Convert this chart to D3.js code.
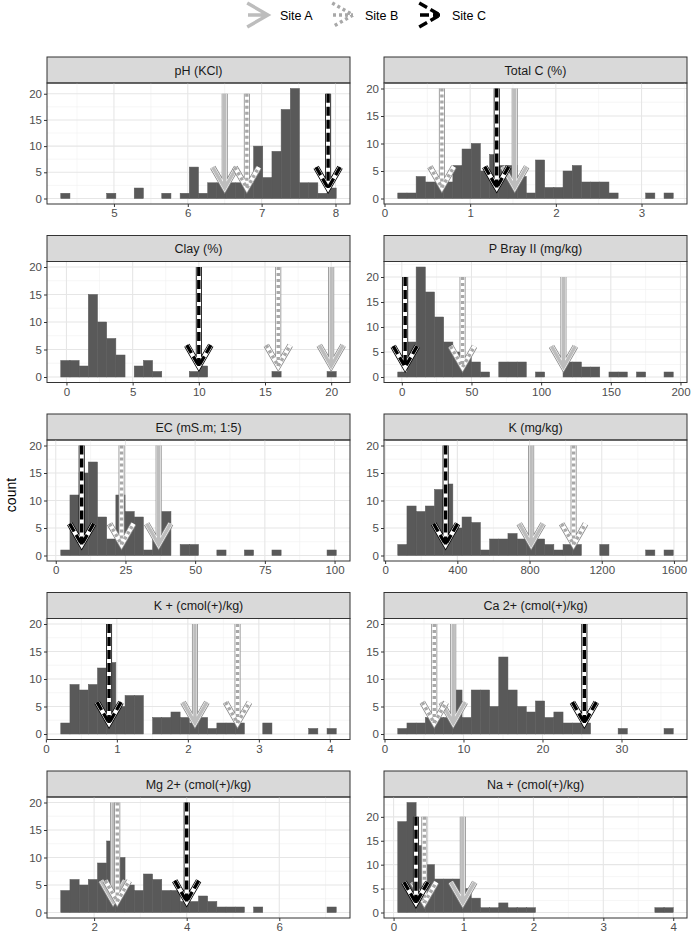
<!DOCTYPE html>
<html>
<head>
<meta charset="utf-8">
<script src="https://cdn.jsdelivr.net/npm/d3@7"></script>
<style>
body { margin: 0; background: #fff; }
text { font-family: "Liberation Sans", Arial, sans-serif; }
</style>
</head>
<body>
<script>
// facet titles
var panels = ["pH (KCl)", "Total C (%)", "Clay (%)", "P Bray II (mg/kg)", "EC (mS.m; 1:5)",
              "K (mg/kg)", "K + (cmol(+)/kg)", "Ca 2+ (cmol(+)/kg)", "Mg 2+ (cmol(+)/kg)", "Na + (cmol(+)/kg)"];

// histogram range (first bin left edge, last bin right edge), 30 bins each
var binLo = [4.28, 0.155, -0.43, -2.9, 1.8, 70, 0.21, 1.68, 1.28, 0.06];
var binHi = [8.01, 3.37, 20.38, 194.8, 100.6, 1596, 4.09, 36.55, 7.23, 4.0];

var phCounts   = [1,0,0,0,0,1,0,0,2,0,0,1,0,1,6,1,3,3,3,3,3,10,4,9,17,21,3,3,1,2];
var totCCounts = [1,1,4,3,3,3,6,9,10,5,8,6,6,4,1,7,2,2,5,6,3,3,3,1,0,0,0,1,0,1];
var clayCounts = [3,3,2,15,10,7,4,0,2,3,1,0,0,0,1,2,0,0,0,0,0,0,0,1,0,0,0,0,0,1];
var pCounts    = [1,7,22,17,12,7,5,4,3,1,0,3,3,3,0,1,0,0,3,3,2,2,0,1,1,0,1,0,0,1];
var ecCounts   = [1,11,15,17,7,3,11,8,7,1,3,8,0,2,2,0,0,1,0,0,1,0,0,1,0,0,0,0,0,1];
var kCounts    = [2,9,8,9,12,13,5,7,6,1,3,3,4,3,3,3,2,1,2,2,0,0,2,0,0,0,0,1,0,1];
var kpCounts   = [2,9,8,9,12,13,5,7,7,0,3,3,4,3,2,3,1,2,2,2,0,0,2,0,0,0,0,1,0,1];
var caCounts   = [1,2,2,3,3,3,8,3,8,8,5,14,8,5,4,6,3,4,2,2,2,0,0,0,1,0,0,0,0,1];
var mgCounts   = [4,6,5,6,9,13,10,5,4,7,6,4,4,2,2,3,2,1,1,1,0,1,0,0,0,0,0,0,0,1];
var naCounts   = [19,23,14,10,7,7,7,5,3,1,1,2,1,1,1,0,0,0,0,0,0,0,0,0,0,0,0,0,1,1];
var allCounts = [phCounts, totCCounts, clayCounts, pCounts, ecCounts, kCounts, kpCounts, caCounts, mgCounts, naCounts];

// site values (arrow positions)
var siteA = [6.5, 1.52, 20, 116, 36.9, 809, 2.1, 8.7, 2.41, 0.99];
var siteB = [6.8, 0.67, 16, 43.6, 23.6, 1044, 2.7, 6.3, 2.5, 0.44];
var siteC = [7.9, 1.31, 10, 2.4, 9.3, 335, 0.89, 25.3, 4.0, 0.32];
var sites = ["Site A", "Site B", "Site C"];
var arrowTop = 20, arrowTip = 2;

// tick labels
var xTicks = [[5,6,7,8], [0,1,2,3], [0,5,10,15,20], [0,50,100,150,200], [0,25,50,75,100],
              [0,400,800,1200,1600], [0,1,2,3,4], [0,10,20,30], [2,4,6], [0,1,2,3,4]];
var yTicks = [0, 5, 10, 15, 20];

var W = 694, H = 939;
var colX = [47, 384], panelW = 303, stripH = 26, panelH = 121, rowTop = 57, rowStep = 178.5;

var siteStyle = {
  "Site A": {outline: "#8a8a8a", color: "#bdbdbd", dash: null},
  "Site B": {outline: "#8a8a8a", color: "#a8a8a8", dash: "3,3"},
  "Site C": {outline: "#000000", color: "#000000", dash: "9,4"}
};

var svg = d3.select("body").append("svg")
    .attr("width", W).attr("height", H);

function chevron(x, yTip, L, ang, dir) {
  // dir "down" for panels, "right" for legend
  var s = Math.sin(ang), c = Math.cos(ang);
  if (dir === "down")
    return "M" + (x - L*s) + "," + (yTip - L*c) + "L" + x + "," + yTip + "L" + (x + L*s) + "," + (yTip - L*c);
  return "M" + (x - L*c) + "," + (yTip - L*s) + "L" + x + "," + yTip + "L" + (x - L*c) + "," + (yTip + L*s);
}

panels.forEach(function(name, i) {
  var col = i % 2, row = Math.floor(i / 2);
  var counts = allCounts[i];
  var arrows = [siteA[i], siteB[i], siteC[i]];
  var lo = Math.min(binLo[i], d3.min(arrows)), hi = Math.max(binHi[i], d3.max(arrows));
  var pad = (hi - lo) * 0.05;
  var x = d3.scaleLinear().domain([lo - pad, hi + pad]).range([0, panelW]);
  var ymax = Math.max(d3.max(counts), arrowTop);
  var y = d3.scaleLinear().domain([-0.05 * ymax, 1.05 * ymax]).range([panelH, 0]);

  var g = svg.append("g").attr("transform", "translate(" + colX[col] + "," + (rowTop + row * rowStep) + ")");

  // strip
  g.append("rect").attr("width", panelW).attr("height", stripH)
      .attr("fill", "#d9d9d9").attr("stroke", "#333").attr("stroke-width", 1);
  g.append("text").attr("x", panelW / 2).attr("y", stripH / 2 + 4.5)
      .attr("text-anchor", "middle").attr("font-size", 12.5).attr("fill", "#1a1a1a").text(name);

  var p = g.append("g").attr("transform", "translate(0," + stripH + ")");

  // grid
  var step = xTicks[i][1] - xTicks[i][0];
  var majors = d3.range(xTicks[i][0] - step, xTicks[i][xTicks[i].length - 1] + step * 1.5, step);
  var dom = x.domain();
  var minorsX = majors.slice(1).map(function(m) { return m - step / 2; })
      .filter(function(v) { return v > dom[0] && v < dom[1]; });
  var minorsY = [2.5, 7.5, 12.5, 17.5, 22.5].filter(function(v) { return v < y.domain()[1]; });
  p.selectAll(".minx").data(minorsX).enter().append("line")
      .attr("x1", x).attr("x2", x).attr("y1", 0).attr("y2", panelH)
      .attr("stroke", "#f0f0f0").attr("stroke-width", 0.6);
  p.selectAll(".miny").data(minorsY).enter().append("line")
      .attr("y1", y).attr("y2", y).attr("x1", 0).attr("x2", panelW)
      .attr("stroke", "#f0f0f0").attr("stroke-width", 0.6);
  p.selectAll(".majx").data(xTicks[i]).enter().append("line")
      .attr("x1", x).attr("x2", x).attr("y1", 0).attr("y2", panelH)
      .attr("stroke", "#e6e6e6").attr("stroke-width", 1.1);
  p.selectAll(".majy").data(yTicks).enter().append("line")
      .attr("y1", y).attr("y2", y).attr("x1", 0).attr("x2", panelW)
      .attr("stroke", "#e6e6e6").attr("stroke-width", 1.1);

  // bars, keep bin index with each count
  var bw = (binHi[i] - binLo[i]) / counts.length;
  var bins = counts.map(function(c, j) { return {c: c, x0: binLo[i] + j * bw, x1: binLo[i] + (j + 1) * bw}; })
      .filter(function(b) { return b.c > 0; });
  p.selectAll(".bar").data(bins).enter().append("rect")
      .attr("x", function(d) { return x(d.x0); })
      .attr("width", function(d) { return x(d.x1) - x(d.x0); })
      .attr("y", function(d) { return y(d.c); })
      .attr("height", function(d) { return y(0) - y(d.c); })
      .attr("fill", "#595959")
      .attr("stroke", "#595959").attr("stroke-width", 0.5);

  // arrows
  arrows.forEach(function(v, k) {
    var st = siteStyle[sites[k]];
    var xp = x(v);
    var d = "M" + xp + "," + y(arrowTop) + "L" + xp + "," + y(arrowTip) + chevron(xp, y(arrowTip), 24, Math.PI / 6, "down");
    p.append("path").attr("d", d).attr("fill", "none").attr("stroke", st.outline)
        .attr("stroke-width", 6).attr("stroke-linejoin", "miter");
    p.append("path").attr("d", d).attr("fill", "none").attr("stroke", "#fff")
        .attr("stroke-width", 4.4).attr("stroke-linejoin", "miter");
    p.append("path").attr("d", d).attr("fill", "none").attr("stroke", st.color)
        .attr("stroke-width", 3.4).attr("stroke-linejoin", "miter")
        .attr("stroke-dasharray", st.dash);
  });

  // border
  p.append("rect").attr("width", panelW).attr("height", panelH)
      .attr("fill", "none").attr("stroke", "#333").attr("stroke-width", 1);

  // axes
  var ax = p.append("g").attr("transform", "translate(0," + panelH + ")")
      .call(d3.axisBottom(x).tickValues(xTicks[i]).tickSize(3).tickPadding(2).tickFormat(d3.format("")));
  var ay = p.append("g").call(d3.axisLeft(y).tickValues(yTicks).tickSize(3).tickPadding(2));
  [ax, ay].forEach(function(a) {
    a.select(".domain").remove();
    a.selectAll("line").attr("stroke", "#333");
    a.selectAll("text").attr("fill", "#4d4d4d").attr("font-size", 11.5)
        .style("font-family", "'Liberation Sans', Arial, sans-serif");
  });
});

// y title
svg.append("text").attr("transform", "translate(16," + 495 + ") rotate(-90)")
    .attr("text-anchor", "middle").attr("font-size", 14).attr("fill", "#000").text("count");

// legend
var legX = [268, 353, 440];
sites.forEach(function(s, k) {
  var st = siteStyle[s];
  var lg = svg.append("g");
  lg.append("path")
      .attr("d", "M" + (legX[k] - 20) + ",15L" + legX[k] + ",15" + chevron(legX[k], 15, 24, Math.PI / 6, "right"))
      .attr("fill", "none").attr("stroke", st.color).attr("stroke-width", 3.4)
      .attr("stroke-dasharray", st.dash);
  lg.append("text").attr("x", legX[k] + 12).attr("y", 19.5).attr("font-size", 12.5)
      .attr("fill", "#000").text(s);
});
</script>
</body>
</html>
